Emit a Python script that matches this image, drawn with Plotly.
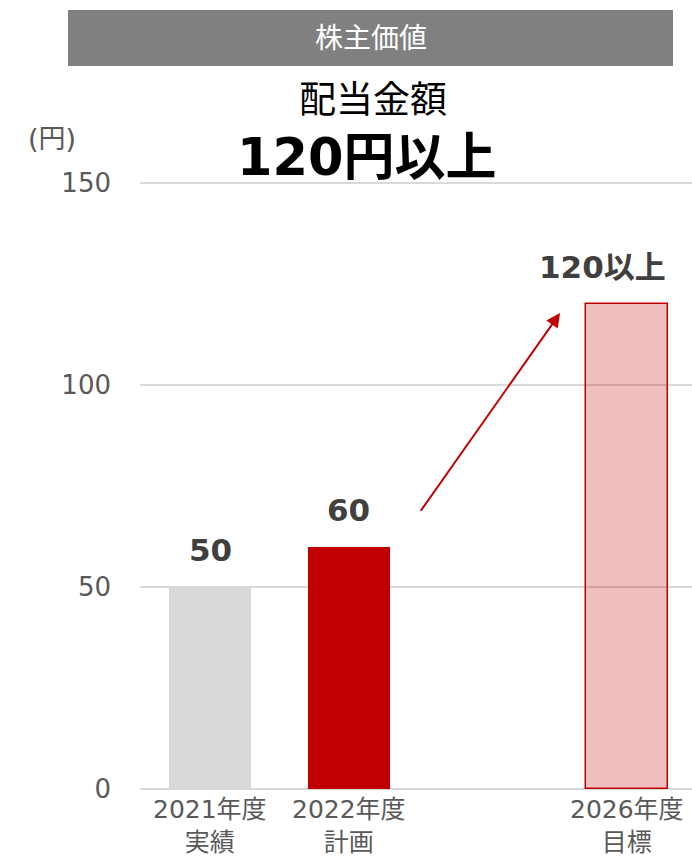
import plotly.graph_objects as go

W, H = 692, 858

categories = ["2021年度<br>実績", "2022年度<br>計画", "2026年度<br>目標"]
positions = [0, 1, 3]
values = [50, 60, 120]
value_labels = ["50", "60", "120以上"]
bar_fill = ["#D9D9D9", "#C00000", "rgba(192,0,0,0.25)"]
bar_line = ["#D9D9D9", "#C00000", "#C00000"]
bar_line_w = [0, 0, 1.5]
y_ticks = [0, 50, 100, 150]
arrow_from = (1.51, 68.5)
arrow_to = (2.52, 117.8)

FONT = "DejaVu Sans, Noto Sans CJK JP, sans-serif"
GRAY = "#595959"

# pixel geometry of the plot area
PX_L, PX_R = 140, 692
PX_Y0, PX_Y150 = 789, 183
Y_MAX = 151.0
px_per_unit = (PX_Y0 - PX_Y150) / 150.0
PX_TOP = PX_Y0 - Y_MAX * px_per_unit

fig = go.Figure()
fig.add_trace(go.Bar(
    x=positions, y=values, width=0.59,
    marker=dict(color=bar_fill, line=dict(color=bar_line, width=bar_line_w)),
    hoverinfo="skip", showlegend=False,
))

label_xshift = [0, 0, -24]
for xv, yv, t, dx in zip(positions, values, value_labels, label_xshift):
    fig.add_annotation(x=xv, y=yv, xref="x", yref="y", text=f"<b>{t}</b>",
                       showarrow=False, yanchor="middle", xanchor="center",
                       yshift=37, xshift=dx,
                       font=dict(family=FONT, size=31, color="#404040"))

fig.add_annotation(x=arrow_to[0], y=arrow_to[1], ax=arrow_from[0], ay=arrow_from[1],
                   xref="x", yref="y", axref="x", ayref="y", text="",
                   showarrow=True, arrowhead=2, arrowsize=1.4, arrowwidth=2,
                   arrowcolor="#C00000")

# category labels (two lines each)
for xv, lab in zip(positions, categories):
    fig.add_annotation(x=xv, y=1 - 826 / H, xref="x", yref="paper", text=lab,
                       showarrow=False, yanchor="middle", xanchor="center",
                       font=dict(family=FONT, size=25, color=GRAY))

# header bar
fig.add_shape(type="rect", xref="paper", yref="paper",
              x0=68 / W, x1=673 / W, y0=1 - 66 / H, y1=1 - 10 / H,
              fillcolor="#808080", line=dict(width=0), layer="above")
fig.add_annotation(x=370.5 / W, y=1 - 39 / H, xref="paper", yref="paper",
                   text="株主価値", showarrow=False, yanchor="middle", xanchor="center",
                   font=dict(family=FONT, size=28, color="white"))
fig.add_annotation(x=373 / W, y=1 - 101 / H, xref="paper", yref="paper",
                   text="配当金額", showarrow=False, yanchor="middle", xanchor="center",
                   font=dict(family=FONT, size=37, color="black"))
fig.add_annotation(x=366 / W, y=1 - 158 / H, xref="paper", yref="paper",
                   text="<b>120円以上</b>", showarrow=False, yanchor="middle",
                   xanchor="center",
                   font=dict(family=FONT, size=51, color="black"))
fig.add_annotation(x=52 / W, y=1 - 138 / H, xref="paper", yref="paper",
                   text="(円)", showarrow=False, yanchor="middle", xanchor="center",
                   font=dict(family=FONT, size=27, color=GRAY))

fig.update_layout(
    width=W, height=H, margin=dict(l=0, r=0, t=0, b=0, autoexpand=False),
    paper_bgcolor="white", plot_bgcolor="white",
    font=dict(family=FONT, color=GRAY),
    xaxis=dict(domain=[PX_L / W, PX_R / W], range=[-0.504, 3.47], automargin=False,
               tickvals=positions, showticklabels=False,
               showgrid=False, zeroline=False, showline=False, ticks=""),
    yaxis=dict(domain=[1 - PX_Y0 / H, 1 - PX_TOP / H], range=[0, Y_MAX],
               automargin=False,
               tickvals=y_ticks, tickfont=dict(size=26, color=GRAY),
               showgrid=True, gridcolor="#D9D9D9", gridwidth=1.5,
               zeroline=True, zerolinecolor="#D9D9D9", zerolinewidth=1.5,
               showline=False, ticklabelstandoff=28),
    bargap=0,
)

fig.write_html("out.html")
